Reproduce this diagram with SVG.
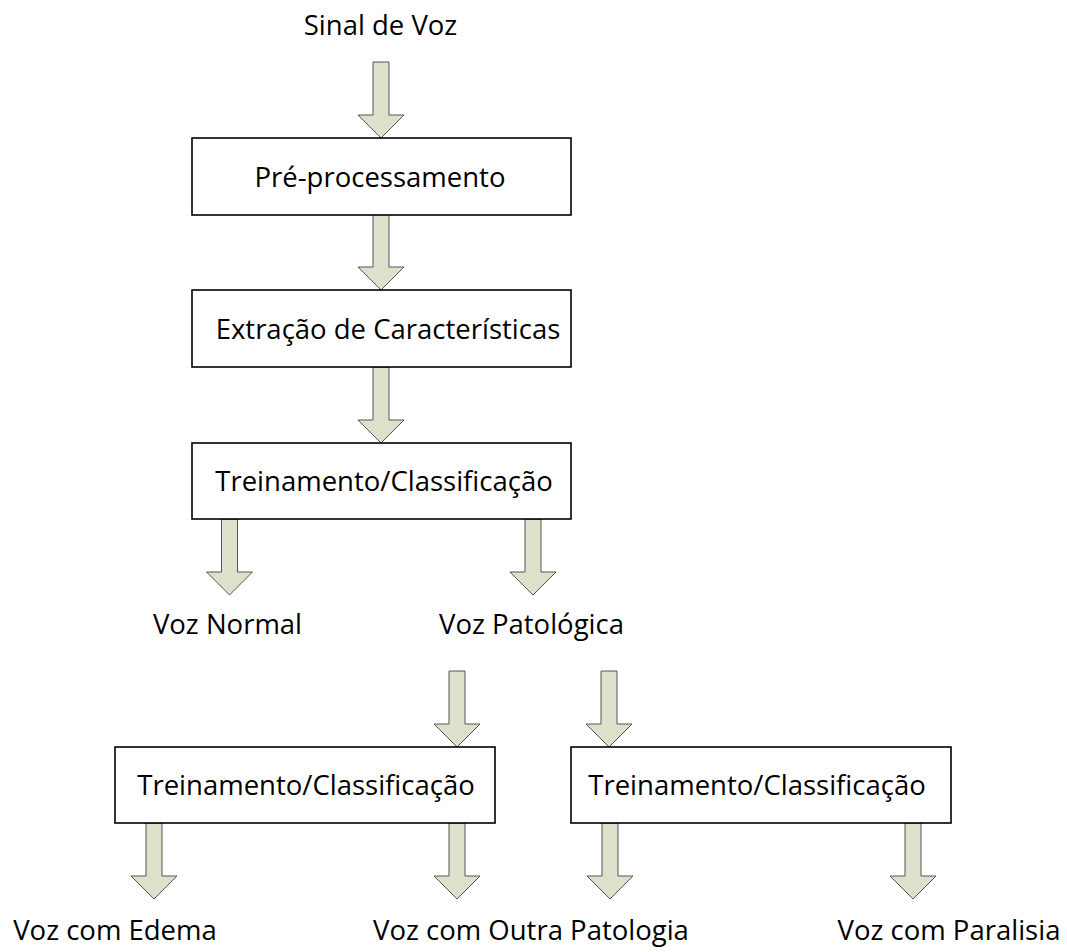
<svg xmlns="http://www.w3.org/2000/svg" xmlns:xlink="http://www.w3.org/1999/xlink" width="1067" height="952" viewBox="0 0 1067 952">
<style>
.box{fill:#ffffff;stroke:#000000;stroke-width:1.6}
.arr{fill:#dde0cb;stroke:#555555;stroke-width:1}
text{font-family:"Open Sans","Noto Sans","Liberation Sans",sans-serif;font-size:27.5px;fill:#000000;text-anchor:middle}
</style>
<defs>
<path id="arrow" class="arr" d="M-8,0 H8 V53 H23 L0,76 L-23,53 H-8 Z"/>
</defs>
<rect width="1067" height="952" fill="#ffffff"/>
<g id="connectors">
<use href="#arrow" xlink:href="#arrow" x="381" y="62"/>
<use href="#arrow" xlink:href="#arrow" x="381" y="214"/>
<use href="#arrow" xlink:href="#arrow" x="381" y="367"/>
<use href="#arrow" xlink:href="#arrow" x="229.5" y="519"/>
<use href="#arrow" xlink:href="#arrow" x="533" y="519"/>
<use href="#arrow" xlink:href="#arrow" x="457" y="671"/>
<use href="#arrow" xlink:href="#arrow" x="609" y="671"/>
<use href="#arrow" xlink:href="#arrow" x="154" y="823"/>
<use href="#arrow" xlink:href="#arrow" x="457" y="823"/>
<use href="#arrow" xlink:href="#arrow" x="610" y="823"/>
<use href="#arrow" xlink:href="#arrow" x="913" y="823"/>
</g>
<g id="sinal"><text x="380.5" y="35">Sinal de Voz</text></g>
<g id="preproc"><rect class="box" x="192" y="138" width="379" height="77"/><text x="380" y="187">Pré-processamento</text></g>
<g id="extracao"><rect class="box" x="192" y="290" width="379" height="77"/><text x="388" y="339">Extração de Características</text></g>
<g id="treino1"><rect class="box" x="192" y="443" width="379" height="76"/><text x="384" y="491">Treinamento/Classificação</text></g>
<g id="normal"><text x="227.5" y="634">Voz Normal</text></g>
<g id="patologica"><text x="531.5" y="634">Voz Patológica</text></g>
<g id="treino2"><rect class="box" x="115" y="747" width="380" height="76"/><text x="306" y="795">Treinamento/Classificação</text></g>
<g id="treino3"><rect class="box" x="571" y="747" width="380" height="76"/><text x="757" y="795">Treinamento/Classificação</text></g>
<g id="edema"><text x="115" y="940">Voz com Edema</text></g>
<g id="outra"><text x="531" y="940">Voz com Outra Patologia</text></g>
<g id="paralisia"><text x="949" y="940">Voz com Paralisia</text></g>
</svg>
